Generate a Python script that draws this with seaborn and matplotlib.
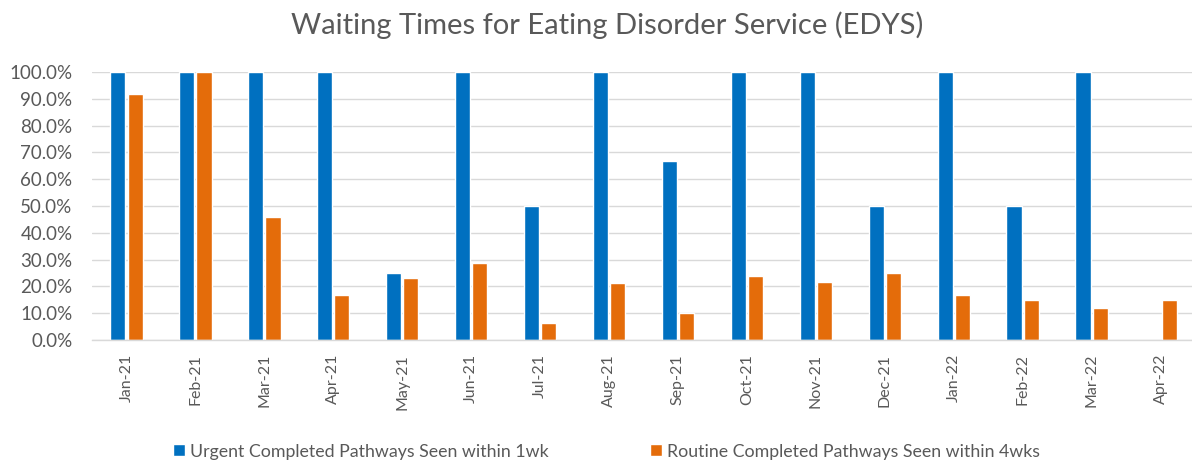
import matplotlib
matplotlib.use("Agg")
import matplotlib.pyplot as plt
import seaborn as sns
import pandas as pd
import numpy as np
from matplotlib.ticker import PercentFormatter, FixedLocator

months = ["Jan-21", "Feb-21", "Mar-21", "Apr-21", "May-21", "Jun-21", "Jul-21", "Aug-21",
          "Sep-21", "Oct-21", "Nov-21", "Dec-21", "Jan-22", "Feb-22", "Mar-22", "Apr-22"]
urgent = [1.0, 1.0, 1.0, 1.0, 0.25, 1.0, 0.50, 1.0,
          0.667, 1.0, 1.0, 0.50, 1.0, 0.50, 1.0, 0.0]
routine = [0.917, 1.0, 0.458, 0.167, 0.231, 0.286, 0.063, 0.212,
           0.102, 0.238, 0.218, 0.252, 0.167, 0.148, 0.121, 0.148]
series_names = ["Urgent Completed Pathways Seen within 1wk",
                "Routine Completed Pathways Seen within 4wks"]

df = pd.DataFrame({
    "month": months * 2,
    "value": urgent + routine,
    "series": [series_names[0]] * len(months) + [series_names[1]] * len(months),
})

sns.set_style("white")
plt.rcParams["font.family"] = ["Lato", "DejaVu Sans"]
grey = "#595959"

fig, ax = plt.subplots(figsize=(11.92, 4.63), dpi=100)
# plot area runs slightly past the right edge, like the source
fig.subplots_adjust(left=0.0772, right=1.0025, top=0.8445, bottom=0.2655)

sns.barplot(data=df, x="month", y="value", hue="series",
            palette=["#0070C0", "#E46C0A"], saturation=1, width=0.5, gap=0.12,
            ax=ax, legend=True)

ax.set_ylim(0, 1.0)
ax.set_xlim(-0.5, len(months) - 0.5)
ax.set_yticks(np.arange(0, 1.01, 0.1))
ax.yaxis.set_major_formatter(PercentFormatter(1.0, decimals=1))
ax.yaxis.grid(True, color="#d9d9d9", linewidth=1)
ax.set_axisbelow(True)
for s in ["top", "right", "left"]:
    ax.spines[s].set_visible(False)
ax.spines["bottom"].set_color("#d9d9d9")
ax.spines["bottom"].set_linewidth(1)

ax.tick_params(axis="x", which="major", length=0, labelsize=11.5, labelcolor=grey, rotation=90, pad=10)
ax.xaxis.set_minor_locator(FixedLocator(np.arange(-0.5, len(months) - 1, 1.0)))
ax.tick_params(axis="x", which="minor", length=6, color="#d9d9d9", width=1)
ax.tick_params(axis="y", length=0, labelsize=13.5, labelcolor=grey, pad=14)
ax.set_xlabel("")
ax.set_ylabel("")

fig.suptitle("Waiting Times for Eating Disorder Service (EDYS)", fontsize=21,
             color=grey, x=0.509, y=0.946, va="center")

handles, labels = ax.get_legend_handles_labels()
ax.legend_.remove()
fig.legend(handles, labels, loc="lower center", ncol=2, frameon=False,
           bbox_to_anchor=(0.509, -0.027), fontsize=12.8, labelcolor=grey,
           handlelength=0.65, handleheight=0.65, handletextpad=0.3, columnspacing=5.7)

plt.savefig("out.png", dpi=100)
